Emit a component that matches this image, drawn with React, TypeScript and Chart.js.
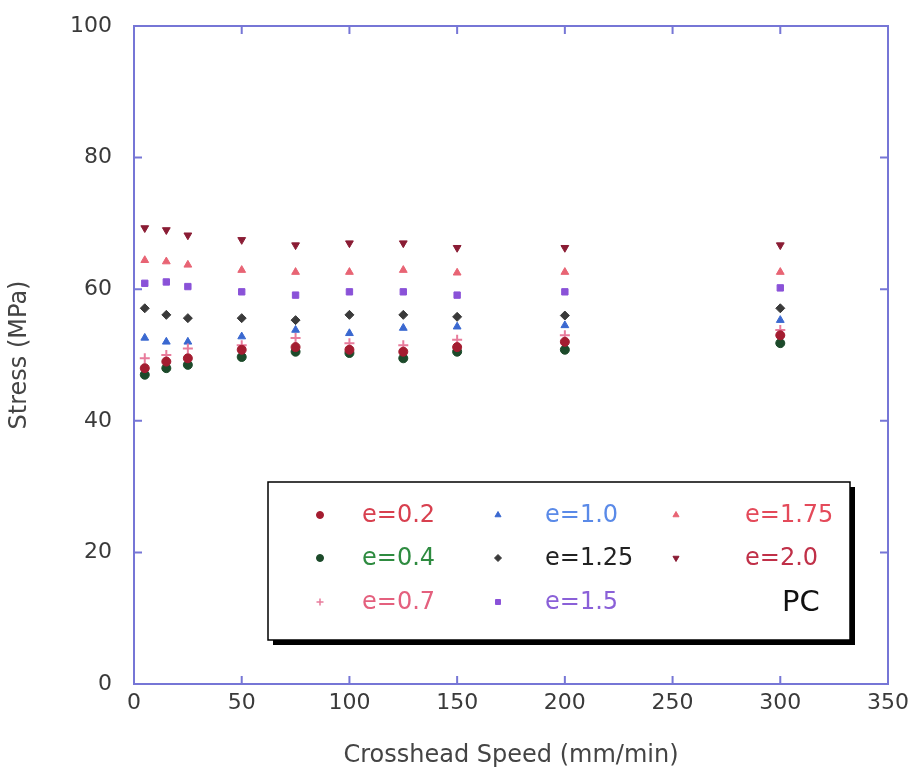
import React, { useEffect, useRef } from "react";
import { Chart, registerables } from "chart.js";
import { drawPoint } from "chart.js/helpers";

Chart.register(...registerables);

// Crosshead speeds (mm/min)
const speeds = [5, 15, 25, 50, 75, 100, 125, 150, 200, 300];

// Stress (MPa) for each strain level e
const e02 = [48.0, 49.0, 49.5, 50.8, 51.2, 50.8, 50.5, 51.2, 52.0, 53.0];
const e04 = [47.0, 48.0, 48.5, 49.7, 50.5, 50.3, 49.5, 50.5, 50.8, 51.8];
const e07 = [49.5, 50.0, 51.0, 51.5, 52.6, 51.8, 51.5, 52.3, 53.0, 53.8];
const e10 = [52.6, 52.0, 52.0, 52.8, 53.8, 53.3, 54.1, 54.3, 54.5, 55.3];
const e125 = [57.1, 56.1, 55.6, 55.6, 55.3, 56.1, 56.1, 55.8, 56.0, 57.1];
const e15 = [60.9, 61.1, 60.4, 59.6, 59.1, 59.6, 59.6, 59.1, 59.6, 60.2];
const e175 = [64.4, 64.2, 63.7, 62.9, 62.6, 62.6, 62.9, 62.5, 62.6, 62.6];
const e20 = [69.3, 69.0, 68.2, 67.5, 66.7, 67.0, 67.0, 66.3, 66.3, 66.7];

const seriesLabels = ["e=0.2", "e=0.4", "e=0.7", "e=1.0", "e=1.25", "e=1.5", "e=1.75", "e=2.0"];
const seriesValues = [e02, e04, e07, e10, e125, e15, e175, e20];
const markerColors = ["#a41c30", "#1c4a2a", "#e87c9c", "#3a68d0", "#3a3a3a", "#8a52d8", "#e86474", "#8a1c34"];
const textColors = ["#d8404f", "#2e8b40", "#e4607e", "#5a8ae8", "#222222", "#8a60d8", "#e44a5a", "#c03048"];
const markerStyles = ["circle", "circle", "cross", "triangle", "rectRot", "rect", "triangle", "triangle"];
const markerRotation = [0, 0, 0, 0, 0, 0, 0, 180];

// Legend grid: column-major order, three rows per column
const legendCols = [
  { marker: 320, text: 362 },
  { marker: 498, text: 545 },
  { marker: 676, text: 745 },
];
const legendRows = [515, 558, 602];
const legendBox = { left: 268, top: 482, right: 850, bottom: 640 };
const materialLabel = "PC";

const FONT = "'DejaVu Sans', sans-serif";
const FRAME = "#7676d6";

const framePlugin = {
  id: "frame",
  beforeDatasetsDraw(chart: any) {
    const { ctx, chartArea } = chart;
    const { left, right, top, bottom } = chartArea;
    const xs = chart.scales.x;
    const ys = chart.scales.y;
    const tl = 8;
    ctx.save();
    ctx.strokeStyle = FRAME;
    ctx.lineWidth = 2;
    ctx.strokeRect(left, top, right - left, bottom - top);
    ctx.beginPath();
    xs.ticks.forEach((t: any) => {
      const px = xs.getPixelForValue(t.value);
      ctx.moveTo(px, bottom);
      ctx.lineTo(px, bottom - tl);
      ctx.moveTo(px, top);
      ctx.lineTo(px, top + tl);
    });
    ys.ticks.forEach((t: any) => {
      const py = ys.getPixelForValue(t.value);
      ctx.moveTo(left, py);
      ctx.lineTo(left + tl, py);
      ctx.moveTo(right, py);
      ctx.lineTo(right - tl, py);
    });
    ctx.stroke();
    ctx.restore();
  },
};

const legendPlugin = {
  id: "boxLegend",
  afterDraw(chart: any) {
    const { ctx } = chart;
    const b = legendBox;
    ctx.save();
    // drop shadow
    ctx.fillStyle = "#000";
    ctx.fillRect(b.left + 5, b.top + 5, b.right - b.left, b.bottom - b.top);
    ctx.fillStyle = "#fff";
    ctx.fillRect(b.left, b.top, b.right - b.left, b.bottom - b.top);
    ctx.strokeStyle = "#000";
    ctx.lineWidth = 1.5;
    ctx.strokeRect(b.left, b.top, b.right - b.left, b.bottom - b.top);

    ctx.font = `24px ${FONT}`;
    ctx.textBaseline = "middle";
    ctx.textAlign = "left";
    chart.data.datasets.forEach((ds: any, i: number) => {
      const col = legendCols[Math.floor(i / 3)];
      const y = legendRows[i % 3];
      ctx.fillStyle = ds.pointBackgroundColor;
      ctx.strokeStyle = ds.pointBorderColor;
      ctx.lineWidth = ds.pointStyle === "cross" ? 1.5 : 1;
      drawPoint(ctx, { pointStyle: ds.pointStyle, rotation: ds.pointRotation, radius: 3.5, borderWidth: 1 }, col.marker, y);
      ctx.fillStyle = textColors[i];
      ctx.fillText(ds.label, col.text, y + 1);
    });
    ctx.fillStyle = "#111";
    ctx.font = `29px ${FONT}`;
    ctx.fillText(materialLabel, 782, legendRows[2] + 1);
    ctx.restore();
  },
};

export default function App() {
  const ref = useRef<HTMLCanvasElement | null>(null);

  useEffect(() => {
    if (!ref.current) return;
    const datasets = seriesLabels.map((label, i) => ({
      label,
      data: speeds.map((s, j) => ({ x: s, y: seriesValues[i][j] })),
      pointStyle: markerStyles[i],
      pointRotation: markerRotation[i],
      pointRadius: markerStyles[i] === "cross" ? 5 : 4.5,
      pointBorderWidth: markerStyles[i] === "cross" ? 2 : 1,
      pointBackgroundColor: markerColors[i],
      pointBorderColor: markerColors[i],
      showLine: false,
    }));
    const chart = new Chart(ref.current, {
      type: "scatter",
      data: { datasets },
      options: {
        animation: false,
        responsive: false,
        layout: { padding: { left: 0, top: 26, right: 24, bottom: 0 } },
        plugins: { legend: { display: false }, tooltip: { enabled: false } },
        scales: {
          x: {
            type: "linear",
            min: 0,
            max: 350,
            ticks: { stepSize: 50, padding: 6, color: "#3a3a3a", font: { family: FONT, size: 22 } },
            grid: { display: false, drawTicks: false },
            border: { display: false },
            title: {
              display: true,
              text: "Crosshead Speed (mm/min)",
              color: "#444",
              font: { family: FONT, size: 24 },
              padding: { top: 0, bottom: 6 },
            },
            afterFit(scale: any) {
              scale.height = 92;
              scale.paddingLeft = 0;
              scale.paddingRight = 0;
            },
          },
          y: {
            type: "linear",
            min: 0,
            max: 100,
            ticks: { stepSize: 20, padding: 22, color: "#3a3a3a", font: { family: FONT, size: 22 } },
            grid: { display: false, drawTicks: false },
            border: { display: false },
            title: {
              display: true,
              text: "Stress (MPa)",
              color: "#444",
              font: { family: FONT, size: 24 },
              padding: { top: 5, bottom: 0 },
            },
            afterFit(scale: any) {
              scale.width = 134;
              scale.paddingTop = 0;
              scale.paddingBottom = 0;
            },
          },
        },
      },
      plugins: [framePlugin, legendPlugin],
    });
    return () => chart.destroy();
  }, []);

  return (
    <div style={{ position: "fixed", left: 0, top: 0, width: 912, height: 776, background: "#fff" }}>
      <canvas ref={ref} width={912} height={776} />
    </div>
  );
}
